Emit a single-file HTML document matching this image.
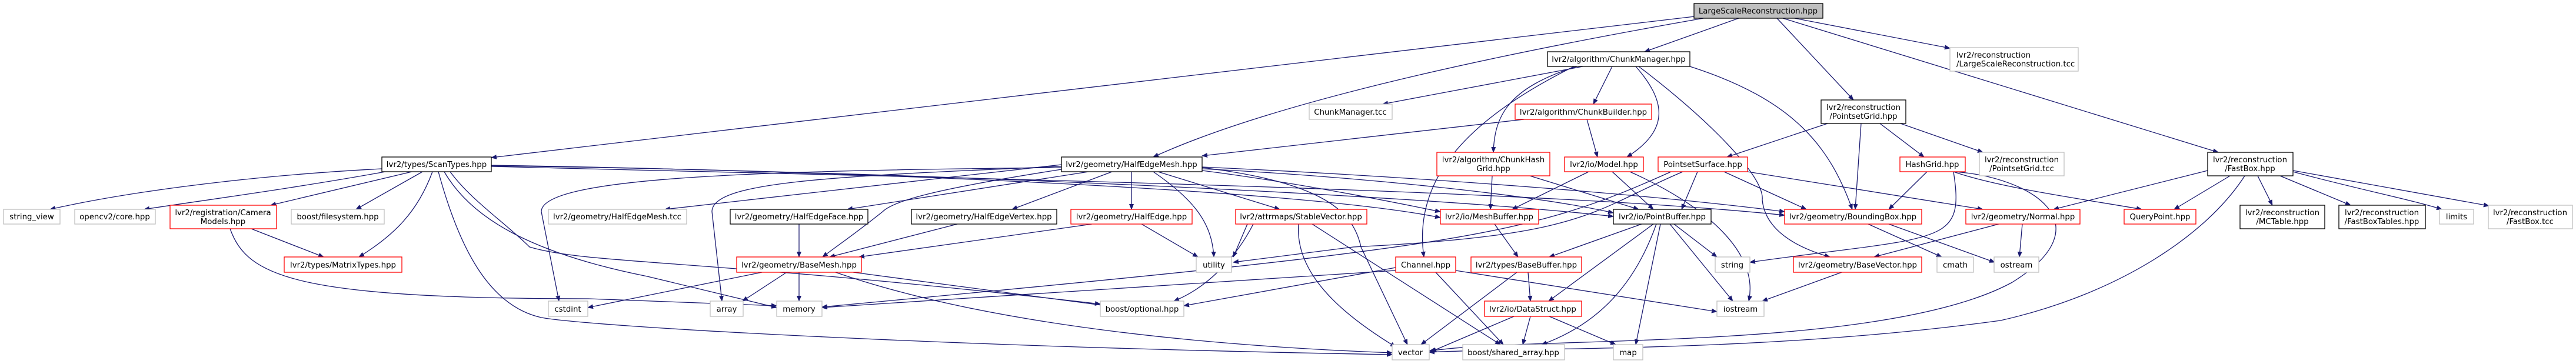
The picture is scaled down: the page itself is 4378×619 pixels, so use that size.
<!DOCTYPE html>
<html><head><meta charset="utf-8"><style>
html,body{margin:0;padding:0;background:#fff;}
svg{display:block;}
text{font-family:"DejaVu Sans","Liberation Sans",sans-serif;font-size:13.3px;fill:#000;}
.e{fill:none;stroke:#191970;stroke-width:1.3;}
.g{fill:#fff;stroke:#bfbfbf;stroke-width:1.3;}
.r{fill:#fff;stroke:#ff0000;stroke-width:1.3;}
.k{fill:#fff;stroke:#000;stroke-width:1.3;}
.m{fill:#bfbfbf;stroke:#000;stroke-width:1.3;}
</style></head><body>
<svg width="4378" height="619" viewBox="0 0 4378 619" xmlns="http://www.w3.org/2000/svg">
<defs><marker id="a" markerWidth="10" markerHeight="8" refX="9" refY="4" orient="auto" markerUnits="userSpaceOnUse"><path d="M0,0 L10,4 L0,8 z" fill="#191970"/></marker></defs>
<g class="e" marker-end="url(#a)">
<path d="M2880,28 L835,268"/>
<path d="M2895,31 C2500,100 2150,180 1960,267"/>
<path d="M2955,31 L2795,88"/>
<path d="M3020,31 L3150,170"/>
<path d="M3030,31 L3770,259"/>
<path d="M3050,31 L3314,82"/>
<path d="M2690,113 L2350,177"/>
<path d="M2740,113 L2708,177"/>
<path d="M2680,113 C2560,150 2540,200 2538,259"/>
<path d="M2780,113 C2830,170 2840,220 2765,267"/>
<path d="M2675,113 C2500,200 2400,300 2420,437"/>
<path d="M2872,113 C3050,170 3110,250 3148,356"/>
<path d="M2785,113 C2900,200 3000,300 2995,340 C3000,390 3050,420 3110,437"/>
<path d="M2590,203 L2043,265"/>
<path d="M2697,203 L2715,267"/>
<path d="M2536,299 L2533,356"/>
<path d="M2600,299 L2785,356"/>
<path d="M2700,292 L2570,356"/>
<path d="M2740,292 L2810,356"/>
<path d="M2770,292 C2900,350 2990,430 2972,512"/>
<path d="M3106,210 L2935,267"/>
<path d="M3163,210 L3153,356"/>
<path d="M3195,210 L3270,267"/>
<path d="M3230,210 L3370,259"/>
<path d="M2885,292 L2858,356"/>
<path d="M2930,292 L3070,356"/>
<path d="M2970,292 L3370,356"/>
<path d="M3320,292 C3400,320 3550,340 3640,356"/>
<path d="M3275,292 L3210,356"/>
<path d="M3320,292 C3340,420 3300,400 2974,446"/>
<path d="M3320,292 C3450,300 3580,380 3420,480 C3200,600 2600,570 2429,597"/>
<path d="M2860,292 C2700,360 2700,400 2300,420 L2096,446"/>
<path d="M2840,292 C2600,400 2500,420 1397,522"/>
<path d="M3752,290 L3490,356"/>
<path d="M3790,299 L3695,356"/>
<path d="M3837,299 L3862,349"/>
<path d="M3875,299 L3995,349"/>
<path d="M3897,292 C4000,320 4100,340 4150,356"/>
<path d="M3897,290 L4230,350"/>
<path d="M3815,299 C3750,400 3600,500 3400,545 C3000,600 2600,590 2429,599"/>
<path d="M3397,381 L3185,437"/>
<path d="M3210,381 L3390,446"/>
<path d="M3175,381 L3300,437"/>
<path d="M3437,381 L3432,437"/>
<path d="M3130,463 L2995,512"/>
<path d="M2790,381 L2633,437"/>
<path d="M2810,381 L2632,512"/>
<path d="M2815,381 C2780,480 2720,550 2620,586"/>
<path d="M2822,381 L2780,586"/>
<path d="M2845,381 L2918,437"/>
<path d="M2838,381 L2945,512"/>
<path d="M2540,381 L2580,437"/>
<path d="M2597,463 L2601,512"/>
<path d="M2578,463 L2415,586"/>
<path d="M2573,538 L2432,598"/>
<path d="M2601,538 L2588,586"/>
<path d="M2633,538 L2746,586"/>
<path d="M2440,463 L2555,586"/>
<path d="M2474,460 L2918,530"/>
<path d="M2372,455 L2012,520"/>
<path d="M2372,460 L1397,523"/>
<path d="M2120,381 L2096,437"/>
<path d="M2130,381 C2100,440 2050,490 1995,512"/>
<path d="M2207,381 C2200,470 2290,540 2372,590"/>
<path d="M2230,381 L2550,586"/>
<path d="M1856,381 L1460,437"/>
<path d="M1940,381 L2036,437"/>
<path d="M1358,381 L1358,437"/>
<path d="M1627,381 L1410,437"/>
<path d="M1337,463 L1262,512"/>
<path d="M1358,463 L1358,512"/>
<path d="M1450,463 L1880,520"/>
<path d="M1420,463 C1700,560 2100,590 2366,600"/>
<path d="M1295,463 L999,523"/>
<path d="M1804,280 L1130,356"/>
<path d="M1850,292 L1440,356"/>
<path d="M1890,292 L1720,356"/>
<path d="M1923,292 L1923,356"/>
<path d="M1968,292 L2175,356"/>
<path d="M1960,292 C2030,340 2060,380 2063,437"/>
<path d="M1804,288 C1600,320 1520,340 1500,360 C1450,400 1420,420 1398,437"/>
<path d="M1804,283 C1400,300 1210,310 1210,360 L1227,512"/>
<path d="M1804,285 C1300,290 920,300 920,360 L950,512"/>
<path d="M2043,290 C2200,310 2350,340 2448,360"/>
<path d="M2043,287 C2300,300 2600,330 2742,362"/>
<path d="M2043,284 C2400,300 2800,330 3033,360"/>
<path d="M2043,285 C2250,310 2300,360 2313,420 L2392,586"/>
<path d="M649,287 C400,300 200,330 85,356"/>
<path d="M655,292 C500,320 350,340 245,356"/>
<path d="M700,292 L460,349"/>
<path d="M718,292 L605,356"/>
<path d="M735,292 C710,360 670,400 610,437"/>
<path d="M745,292 C780,420 830,520 920,540 C1000,555 1600,590 2366,603"/>
<path d="M755,292 C800,370 900,430 1100,470 L1320,523"/>
<path d="M765,292 C800,340 860,380 900,420 C1000,450 1200,440 1870,517"/>
<path d="M835,282 C1500,290 2400,330 2742,368"/>
<path d="M835,283 C1500,300 2600,320 3033,366"/>
<path d="M835,281 C1400,290 2200,320 2448,370"/>
<path d="M427,389 L550,437"/>
<path d="M391,389 C420,470 500,508 1000,508 L1320,520"/>
</g>
<g>
<rect class="m" x="2879" y="6" width="219" height="25"/><text x="2988" y="23" text-anchor="middle">LargeScaleReconstruction.hpp</text>
<rect class="k" x="2630" y="88" width="242" height="25"/><text x="2751" y="105" text-anchor="middle">lvr2/algorithm/ChunkManager.hpp</text>
<rect class="g" x="3314" y="81" width="218" height="40"/><text x="3325" y="98">lvr2/reconstruction</text><text x="3325" y="113">/LargeScaleReconstruction.tcc</text>
<rect class="g" x="2225" y="177" width="141" height="26"/><text x="2295" y="195" text-anchor="middle">ChunkManager.tcc</text>
<rect class="r" x="2575" y="177" width="232" height="26"/><text x="2691" y="195" text-anchor="middle">lvr2/algorithm/ChunkBuilder.hpp</text>
<rect class="k" x="3095" y="170" width="144" height="40"/><text x="3167" y="187" text-anchor="middle">lvr2/reconstruction</text><text x="3167" y="202" text-anchor="middle">/PointsetGrid.hpp</text>
<rect class="k" x="649" y="267" width="186" height="25"/><text x="742" y="284" text-anchor="middle">lvr2/types/ScanTypes.hpp</text>
<rect class="k" x="1804" y="267" width="239" height="25"/><text x="1923" y="284" text-anchor="middle">lvr2/geometry/HalfEdgeMesh.hpp</text>
<rect class="r" x="2442" y="259" width="192" height="40"/><text x="2538" y="276" text-anchor="middle">lvr2/algorithm/ChunkHash</text><text x="2538" y="291" text-anchor="middle">Grid.hpp</text>
<rect class="r" x="2659" y="267" width="134" height="25"/><text x="2726" y="284" text-anchor="middle">lvr2/io/Model.hpp</text>
<rect class="r" x="2818" y="267" width="152" height="25"/><text x="2894" y="284" text-anchor="middle">PointsetSurface.hpp</text>
<rect class="r" x="3229" y="267" width="111" height="25"/><text x="3284" y="284" text-anchor="middle">HashGrid.hpp</text>
<rect class="g" x="3364" y="259" width="144" height="40"/><text x="3436" y="276" text-anchor="middle">lvr2/reconstruction</text><text x="3436" y="291" text-anchor="middle">/PointsetGrid.tcc</text>
<rect class="k" x="3752" y="259" width="145" height="40"/><text x="3824" y="276" text-anchor="middle">lvr2/reconstruction</text><text x="3824" y="291" text-anchor="middle">/FastBox.hpp</text>
<rect class="g" x="6" y="356" width="96" height="25"/><text x="54" y="373" text-anchor="middle">string_view</text>
<rect class="g" x="127" y="356" width="137" height="25"/><text x="195" y="373" text-anchor="middle">opencv2/core.hpp</text>
<rect class="r" x="289" y="349" width="181" height="40"/><text x="379" y="366" text-anchor="middle">lvr2/registration/Camera</text><text x="379" y="381" text-anchor="middle">Models.hpp</text>
<rect class="g" x="495" y="356" width="158" height="25"/><text x="574" y="373" text-anchor="middle">boost/filesystem.hpp</text>
<rect class="g" x="932" y="356" width="235" height="25"/><text x="1049" y="373" text-anchor="middle">lvr2/geometry/HalfEdgeMesh.tcc</text>
<rect class="k" x="1241" y="356" width="234" height="25"/><text x="1358" y="373" text-anchor="middle">lvr2/geometry/HalfEdgeFace.hpp</text>
<rect class="k" x="1549" y="356" width="247" height="25"/><text x="1672" y="373" text-anchor="middle">lvr2/geometry/HalfEdgeVertex.hpp</text>
<rect class="r" x="1820" y="356" width="206" height="25"/><text x="1923" y="373" text-anchor="middle">lvr2/geometry/HalfEdge.hpp</text>
<rect class="r" x="2100" y="356" width="223" height="25"/><text x="2211" y="373" text-anchor="middle">lvr2/attrmaps/StableVector.hpp</text>
<rect class="r" x="2448" y="356" width="167" height="25"/><text x="2531" y="373" text-anchor="middle">lvr2/io/MeshBuffer.hpp</text>
<rect class="k" x="2742" y="356" width="166" height="25"/><text x="2825" y="373" text-anchor="middle">lvr2/io/PointBuffer.hpp</text>
<rect class="r" x="3033" y="356" width="233" height="25"/><text x="3149" y="373" text-anchor="middle">lvr2/geometry/BoundingBox.hpp</text>
<rect class="r" x="3341" y="356" width="194" height="25"/><text x="3438" y="373" text-anchor="middle">lvr2/geometry/Normal.hpp</text>
<rect class="r" x="3610" y="356" width="122" height="25"/><text x="3671" y="373" text-anchor="middle">QueryPoint.hpp</text>
<rect class="k" x="3807" y="349" width="144" height="40"/><text x="3879" y="366" text-anchor="middle">lvr2/reconstruction</text><text x="3879" y="381" text-anchor="middle">/MCTable.hpp</text>
<rect class="k" x="3975" y="349" width="147" height="40"/><text x="4048" y="366" text-anchor="middle">lvr2/reconstruction</text><text x="4048" y="381" text-anchor="middle">/FastBoxTables.hpp</text>
<rect class="g" x="4146" y="356" width="58" height="25"/><text x="4175" y="373" text-anchor="middle">limits</text>
<rect class="g" x="4229" y="349" width="143" height="40"/><text x="4300" y="366" text-anchor="middle">lvr2/reconstruction</text><text x="4300" y="381" text-anchor="middle">/FastBox.tcc</text>
<rect class="r" x="483" y="437" width="200" height="26"/><text x="583" y="455" text-anchor="middle">lvr2/types/MatrixTypes.hpp</text>
<rect class="r" x="1252" y="437" width="212" height="26"/><text x="1358" y="455" text-anchor="middle">lvr2/geometry/BaseMesh.hpp</text>
<rect class="g" x="2033" y="437" width="60" height="26"/><text x="2063" y="455" text-anchor="middle">utility</text>
<rect class="r" x="2372" y="437" width="102" height="26"/><text x="2423" y="455" text-anchor="middle">Channel.hpp</text>
<rect class="r" x="2500" y="437" width="188" height="26"/><text x="2594" y="455" text-anchor="middle">lvr2/types/BaseBuffer.hpp</text>
<rect class="g" x="2915" y="437" width="59" height="26"/><text x="2944" y="455" text-anchor="middle">string</text>
<rect class="r" x="3048" y="437" width="218" height="26"/><text x="3157" y="455" text-anchor="middle">lvr2/geometry/BaseVector.hpp</text>
<rect class="g" x="3292" y="437" width="62" height="26"/><text x="3323" y="455" text-anchor="middle">cmath</text>
<rect class="g" x="3389" y="437" width="76" height="26"/><text x="3427" y="455" text-anchor="middle">ostream</text>
<rect class="g" x="932" y="512" width="67" height="26"/><text x="965" y="530" text-anchor="middle">cstdint</text>
<rect class="g" x="1207" y="512" width="56" height="26"/><text x="1235" y="530" text-anchor="middle">array</text>
<rect class="g" x="1320" y="512" width="77" height="26"/><text x="1358" y="530" text-anchor="middle">memory</text>
<rect class="g" x="1870" y="512" width="142" height="26"/><text x="1941" y="530" text-anchor="middle">boost/optional.hpp</text>
<rect class="r" x="2523" y="512" width="165" height="26"/><text x="2605" y="530" text-anchor="middle">lvr2/io/DataStruct.hpp</text>
<rect class="g" x="2918" y="512" width="80" height="26"/><text x="2958" y="530" text-anchor="middle">iostream</text>
<rect class="g" x="2366" y="586" width="63" height="26"/><text x="2397" y="604" text-anchor="middle">vector</text>
<rect class="g" x="2486" y="586" width="173" height="26"/><text x="2572" y="604" text-anchor="middle">boost/shared_array.hpp</text>
<rect class="g" x="2742" y="586" width="50" height="26"/><text x="2767" y="604" text-anchor="middle">map</text>
</g>
</svg>
</body></html>
